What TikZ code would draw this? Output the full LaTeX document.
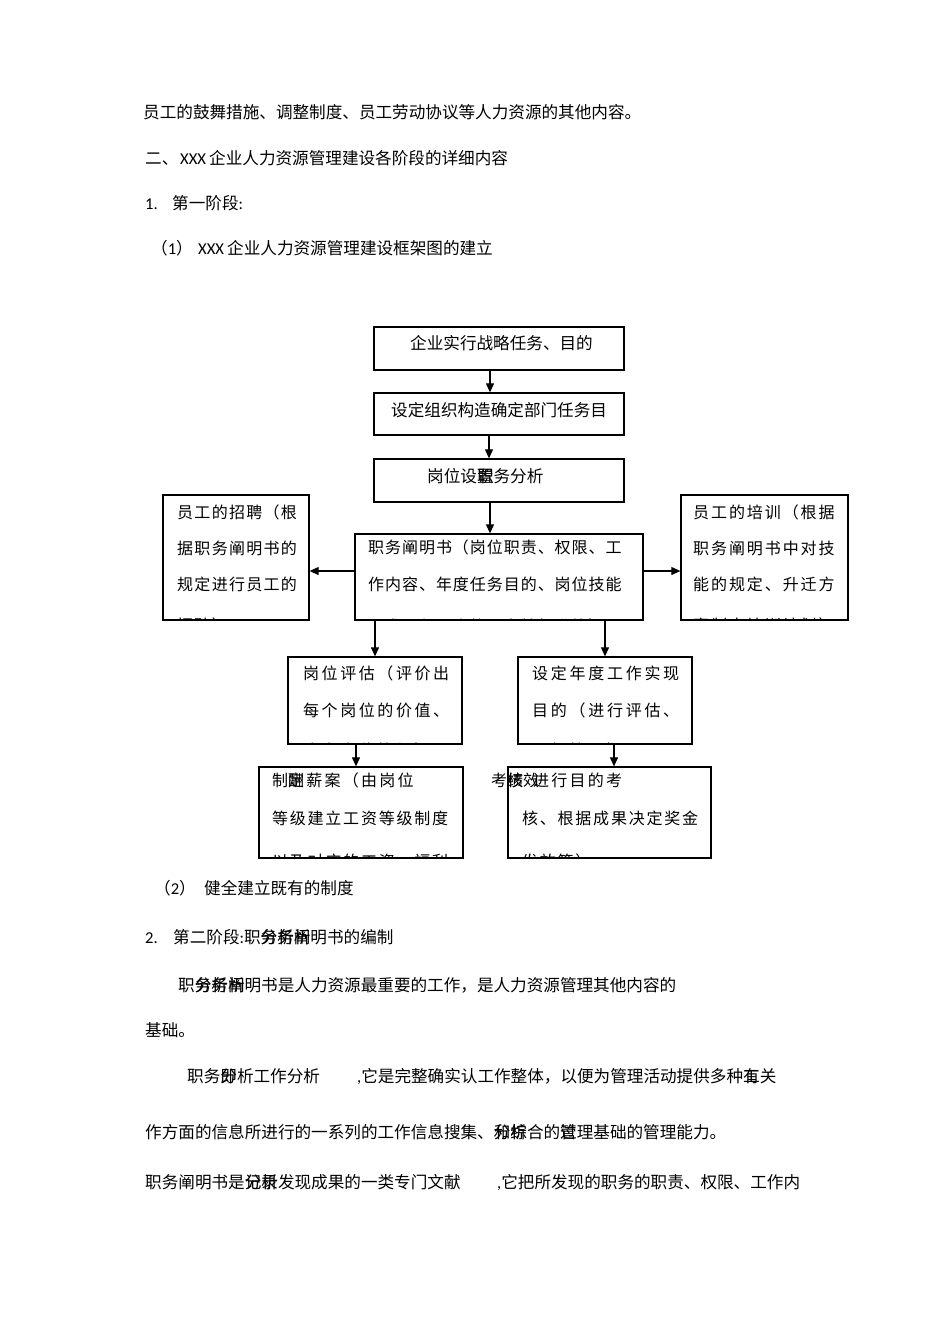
\documentclass[tikz,border=0pt]{standalone}
\usepackage{fontspec}
\setmainfont{Noto Sans CJK SC}
\newfontfamily\latin{Carlito}
\usetikzlibrary{arrows.meta}
\newcommand\olap[2]{\rlap{#1}#2}
\tikzset{
  body/.style={inner sep=0pt, anchor=base west, font=\fontsize{16.6}{20}\selectfont},
  boxed/.style={draw, line width=1.3pt, inner sep=0pt},
  arr/.style={draw, line width=1.1pt, -{Triangle[length=9pt,width=8pt]}},
  bt/.style={inner sep=0pt, anchor=base west, font=\fontsize{16}{20}\selectfont\addfontfeature{LetterSpace=#1}},
  bt/.default=0
}
\begin{document}
\begin{tikzpicture}[x=1pt,y=-1pt]
\useasboundingbox (0,0) rectangle (950,1344);
% ---------- body text above ----------
\node[body] (p1) at (143,118) {员工的鼓舞措施、调整制度、员工劳动协议等人力资源的其他内容。};
\node[body] (p2) at (145,164) {二、};
\node[body] (p2x) at (180,164) {\latin XXX};
\node[body] (p2t) at (209,164) {企业人力资源管理建设各阶段的详细内容};
\node[body] (p3) at (145,209) {\latin 1.};
\node[body] (p3t) at (172,209) {第一阶段\latin :};
\node[body] (p4) at (151,254) {（{\latin 1}）};
\node[body] (p4x) at (198,254) {\latin XXX};
\node[body] (p4t) at (227,254) {企业人力资源管理建设框架图的建立};
% ---------- boxes ----------
\node[boxed, minimum width=250pt, minimum height=43pt] (b1) at (499,348.5) {};
\node[boxed, minimum width=250pt, minimum height=42pt] (b2) at (499,414) {};
\node[boxed, minimum width=250pt, minimum height=43pt] (b3) at (499,480.5) {};
\node[boxed, minimum width=288pt, minimum height=86pt] (mid) at (499,577) {};
\node[boxed, minimum width=146pt, minimum height=125pt] (lft) at (236,557.5) {};
\node[boxed, minimum width=167pt, minimum height=125pt] (rgt) at (764.5,557.5) {};
\node[boxed, minimum width=174pt, minimum height=87pt] (ev) at (375,700.5) {};
\node[boxed, minimum width=174pt, minimum height=87pt] (gl) at (605,700.5) {};
\node[boxed, minimum width=204pt, minimum height=91pt] (pay) at (361,812.5) {};
\node[boxed, minimum width=203pt, minimum height=91pt] (pf) at (609.5,812.5) {};
% ---------- box texts ----------
\node[body] (b1t) at (410,349) {企业实行战略任务、目的};
\node[body] (b2t) at (391,416) {设定组织构造确定部门任务目};
\node[body] (b3t) at (427,482) {岗位设\olap{置}{职}务分析};
\begin{scope}
\clip (mid.north west) rectangle (mid.south east);
\node[bt=6] (m1) at (368,553) {职务阐明书（岗位职责、权限、工};
\node[bt=6] (m2) at (368,590) {作内容、年度任务目的、岗位技能};
\node[bt=6] (m3) at (368,632) {要求、任职资格、考核标准等）};
\end{scope}
\begin{scope}
\clip (lft.north west) rectangle (lft.south east);
\node[bt=8] (l1) at (177,518) {员工的招聘（根};
\node[bt=8] (l2) at (177,554) {据职务阐明书的};
\node[bt=8] (l3) at (177,590) {规定进行员工的};
\node[bt=8] (l4) at (177,631) {招聘）};
\end{scope}
\begin{scope}
\clip (rgt.north west) rectangle (rgt.south east);
\node[bt=12] (r1) at (693,518) {员工的培训（根据};
\node[bt=12] (r2) at (693,554) {职务阐明书中对技};
\node[bt=12] (r3) at (693,590) {能的规定、升迁方};
\node[bt=12] (r4) at (693,631) {案制定培训计划）};
\end{scope}
\begin{scope}
\clip (ev.north west) rectangle (ev.south east);
\node[bt=16] (e1) at (303,679) {岗位评估（评价出};
\node[bt=16] (e2) at (303,716) {每个岗位的价值、};
\node[bt=16] (e3) at (303,756) {确定岗位等级）};
\end{scope}
\begin{scope}
\clip (gl.north west) rectangle (gl.south east);
\node[bt=17] (g1) at (532,679) {设定年度工作实现};
\node[bt=17] (g2) at (532,716) {目的（进行评估、};
\node[bt=17] (g3) at (532,756) {目标管理）};
\end{scope}
\begin{scope}
\clip (pay.north west) rectangle (pay.south east);
\node[bt=14] (y1) at (272,786) {制\olap{定}{酬}薪案（由岗位};
\node[bt=11] (y2) at (272,824) {等级建立工资等级制度};
\node[bt=11] (y3) at (272,867) {以及对应的工资、福利};
\end{scope}
\begin{scope}
\clip ([xshift=-40pt]pf.north west) rectangle (pf.south east);
\node[bt] (f1a) at (491,786) {考\olap{核}{绩}效};
\node[bt=14] (f1b) at (533,786) {进行目的考};
\node[bt=11] (f2) at (522,824) {核、根据成果决定奖金};
\node[bt=11] (f3) at (522,867) {发放等）};
\end{scope}
% ---------- arrows ----------
\coordinate (x1) at (490,0);
\coordinate (x2) at (489,0);
\coordinate (x3) at (490,0);
\coordinate (yl) at (0,571);
\coordinate (x4) at (356,0);
\coordinate (x5) at (614,0);
\draw[arr] (b1.south -| x1) -- (b2.north -| x1);
\draw[arr] (b2.south -| x2) -- (b3.north -| x2);
\draw[arr] (b3.south -| x3) -- (mid.north -| x3);
\draw[arr] (mid.west |- yl) -- (lft.east |- yl);
\draw[arr] (mid.east |- yl) -- (rgt.west |- yl);
\draw[arr] (mid.south -| ev.north) -- (ev.north);
\draw[arr] (mid.south -| gl.north) -- (gl.north);
\draw[arr] (ev.south -| x4) -- (pay.north -| x4);
\draw[arr] (gl.south -| x5) -- (pf.north -| x5);
% ---------- body text below ----------
\node[body] (p5) at (154,894) {（{\latin 2}）};
\node[body] (p5t) at (204,894) {健全建立既有的制度};
\node[body] (p6) at (145,943) {\latin 2.};
\node[body] (p6t) at (173,943) {第二阶段{\latin :}职\olap{务}{分}\olap{析}{务}\olap{阐}{析}明书的编制};
\node[body] (p7) at (178,991) {职\olap{务}{分}\olap{析}{务}\olap{阐}{析}明书是人力资源最重要的工作，是人力资源管理其他内容的};
\node[body] (p8) at (145,1036) {基础。};
\node[body] (p9a) at (187,1082) {职务\olap{分}{即}析工作分析};
\node[body] (p9b) at (357,1082) {{\latin ,}它是完整确实认工作整体，以便为管理活动提供多种\olap{有}{工}关};
\node[body] (p10) at (145,1138) {作方面的信息所进行的一系列的工作信息搜集、\olap{分}{和}\olap{析}{综}合的\olap{过}{管}理基础的管理能力。};
\node[body] (p11a) at (145,1188) {职务阐明书是\olap{记}{分}\olap{录}{析}发现成果的一类专门文献};
\node[body] (p11b) at (497,1188) {{\latin ,}它把所发现的职务的职责、权限、工作内};
\end{tikzpicture}
\end{document}
